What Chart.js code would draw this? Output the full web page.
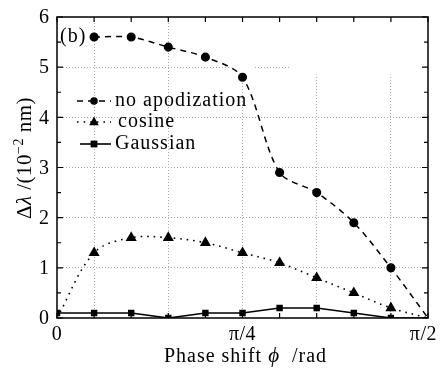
<!DOCTYPE html>
<html><head><meta charset="utf-8">
<script src="https://cdn.jsdelivr.net/npm/chart.js@4.4.1/dist/chart.umd.min.js"></script>
<style>html,body{margin:0;padding:0;background:#fff}#wrap{width:441px;height:368px}</style>
</head><body><div id="wrap"><canvas id="c" width="441" height="368"></canvas></div>
<script>
// phase shift in units of pi/20
const phaseSteps = [0,1,2,3,4,5,6,7,8,9,10];
const noApodization = [null,5.6,5.6,5.4,5.2,4.8,2.9,2.5,1.9,1.0,0.0];
const cosine        = [0,1.3,1.6,1.6,1.5,1.3,1.1,0.8,0.5,0.2,0.0];
const gaussian      = [0.1,0.1,0.1,0.0,0.1,0.1,0.2,0.2,0.1,0.0,0.0];
const seriesLabels = ['no apodization','cosine','Gaussian'];
const xTickLabels = {0:'0',5:'\u03C0/4',10:'\u03C0/2'};
const yTickLabels = ['0','1','2','3','4','5','6'];

const SERIF = '"Liberation Serif", "Times New Roman", serif';
function pts(arr){ return phaseSteps.map((x,i)=>({x:x,y:arr[i]})).filter(p=>p.y!==null); }

const markerRadius = (hideFirst, hideLast) => (ctx) => {
  const n = ctx.dataset.data.length;
  if (hideFirst && ctx.dataIndex===0) return 0;
  if (hideLast && ctx.dataIndex===n-1) return 0;
  return ctx.dataset._r;
};

// white patches over parts of the grid, as in the original figure
const gridMask = {
  id:'gridMask',
  beforeDatasetsDraw(chart){
    const c = chart.ctx, a = chart.chartArea;
    const xs = chart.scales.x, ys = chart.scales.y;
    const yb = ys.getPixelForValue(4.85);
    c.save(); c.fillStyle='#fff';
    c.fillRect(xs.getPixelForValue(4.7), a.top, xs.getPixelForValue(5.3)-xs.getPixelForValue(4.7), yb-a.top);
    c.fillRect(xs.getPixelForValue(6.3), a.top, a.right-xs.getPixelForValue(6.3), yb-a.top);
    c.restore();
  }
};

const deco = {
  id:'deco',
  afterDraw(chart){
    const c = chart.ctx, a = chart.chartArea;
    const xs = chart.scales.x, ys = chart.scales.y;
    c.save();
    // frame
    c.strokeStyle='#000'; c.lineWidth=1.5; c.setLineDash([]);
    c.strokeRect(a.left, a.top, a.right-a.left, a.bottom-a.top);
    // inward ticks
    c.lineWidth=1.2;
    c.beginPath();
    for (const v of phaseSteps){
      const px = xs.getPixelForValue(v);
      c.moveTo(px,a.bottom); c.lineTo(px,a.bottom-5);
      c.moveTo(px,a.top); c.lineTo(px,a.top+5);
    }
    for (let v=0; v<=6; v+=0.5){
      const py = ys.getPixelForValue(v);
      const L = Number.isInteger(v)?6:4;
      c.moveTo(a.left,py); c.lineTo(a.left+L,py);
      c.moveTo(a.right,py); c.lineTo(a.right-L,py);
    }
    c.stroke();
    // y tick labels
    c.fillStyle='#000';
    c.font='20px '+SERIF; c.letterSpacing='0px';
    c.textAlign='right'; c.textBaseline='middle';
    yTickLabels.forEach((t,i)=>{ c.fillText(t, a.left-8, ys.getPixelForValue(i)+1); });
    // x tick labels
    c.textAlign='center'; c.textBaseline='middle';
    c.letterSpacing='0.5px';
    for (const k of Object.keys(xTickLabels)){
      const t = xTickLabels[k];
      const w = c.measureText(t).width;
      let px = xs.getPixelForValue(+k);
      px = Math.min(px, chart.width - w/2 - 4);
      c.fillText(t, px, a.bottom+17);
    }
    // x title
    c.letterSpacing='1px';
    c.textBaseline='alphabetic'; c.textAlign='left';
    const p1='Phase shift ', p3='  /rad';
    c.font='20px '+SERIF; const w1=c.measureText(p1).width;
    c.font='italic 21px '+SERIF; const w2=c.measureText('\u03D5').width;
    c.font='20px '+SERIF; const w3=c.measureText(p3).width;
    let sx = (a.left+a.right)/2 + 3 - (w1+w2+w3)/2;
    const by = 362;
    c.fillText(p1, sx, by); sx+=w1;
    c.font='italic 21px '+SERIF; c.fillText('\u03D5', sx, by); sx+=w2;
    c.font='20px '+SERIF; c.fillText(p3, sx, by);
    // y title (rotated)
    c.save();
    c.translate(31, 158); c.rotate(-Math.PI/2);
    c.letterSpacing='0.5px';
    const parts = [
      {t:'\u0394', f:'21px '+SERIF, dy:0},
      {t:'\u03BB', f:'italic 21px '+SERIF, dy:0},
      {t:' /(10', f:'21px '+SERIF, dy:0},
      {t:'\u22122', f:'14px '+SERIF, dy:-8},
      {t:' nm)', f:'21px '+SERIF, dy:0}
    ];
    let tw=0; parts.forEach(p=>{c.font=p.f; p.w=c.measureText(p.t).width; tw+=p.w;});
    let ox=-tw/2;
    parts.forEach(p=>{c.font=p.f; c.fillText(p.t, ox, p.dy); ox+=p.w;});
    c.restore();
    // (b)
    c.font='20px '+SERIF; c.letterSpacing='1px';
    c.textBaseline='middle'; c.textAlign='left';
    c.fillText('(b)', a.left+3, 37);
    // legend
    const rows=[101,122,144];
    chart.data.datasets.forEach((ds,i)=>{
      const y=rows[i];
      c.strokeStyle='#000'; c.lineWidth=ds.borderWidth; c.setLineDash(ds.borderDash||[]);
      c.beginPath(); c.moveTo(i===2?80:77,y); c.lineTo(111,y); c.stroke();
      c.setLineDash([]);
      drawMarker(c, ds.pointStyle, 94, y, ds._r);
      c.fillStyle='#000';
      c.font='20px '+SERIF; c.letterSpacing='1px';
      c.fillText(ds.label, i===1?118:115, y);
    });
    c.restore();
  }
};
function drawMarker(c, style, x, y, r){
  c.fillStyle='#000';
  c.beginPath();
  if (style==='circle'){ c.arc(x,y,r,0,Math.PI*2); }
  else if (style==='triangle'){ c.moveTo(x,y-r*1.15); c.lineTo(x+r,y+r*0.7); c.lineTo(x-r,y+r*0.7); c.closePath(); }
  else { c.rect(x-r,y-r,2*r,2*r); }
  c.fill();
}

new Chart(document.getElementById('c'), {
  type:'line',
  data:{ datasets:[
    { label:seriesLabels[0], data:pts(noApodization), borderColor:'#000', backgroundColor:'#000',
      borderWidth:1.5, borderDash:[6,5], pointStyle:'circle', _r:3.8, pointRadius:markerRadius(false,true),
      tension:0.3, fill:false },
    { label:seriesLabels[1], data:pts(cosine), borderColor:'#000', backgroundColor:'#000',
      borderWidth:1.6, borderDash:[1.6,5], pointStyle:'triangle', _r:4.8, pointRadius:markerRadius(true,true),
      tension:0.35, fill:false },
    { label:seriesLabels[2], data:pts(gaussian), borderColor:'#000', backgroundColor:'#000',
      borderWidth:1.6, pointStyle:'rect', _r:3.4, pointRadius:markerRadius(false,true),
      tension:0, fill:false }
  ]},
  options:{
    responsive:false, animation:false, devicePixelRatio:1,
    layout:{ padding:{ left:57, right:13, top:17, bottom:50 } },
    plugins:{ legend:{display:false}, tooltip:{enabled:false} },
    scales:{
      x:{ type:'linear', min:0, max:10,
        ticks:{ display:false, stepSize:1 },
        border:{ display:false, dash:[1,2] },
        grid:{ drawTicks:false, lineWidth:1,
          color:(ctx)=> (ctx.tick && ctx.tick.value%2===1) ? '#a8a8a8' : 'rgba(0,0,0,0)' } },
      y:{ type:'linear', min:0, max:6,
        ticks:{ display:false, stepSize:1 },
        border:{ display:false, dash:[1,2] },
        grid:{ drawTicks:false, lineWidth:1,
          color:(ctx)=> (ctx.tick && ctx.tick.value>0 && ctx.tick.value<6) ? '#a8a8a8' : 'rgba(0,0,0,0)' } }
    }
  },
  plugins:[gridMask, deco]
});
</script></body></html>
